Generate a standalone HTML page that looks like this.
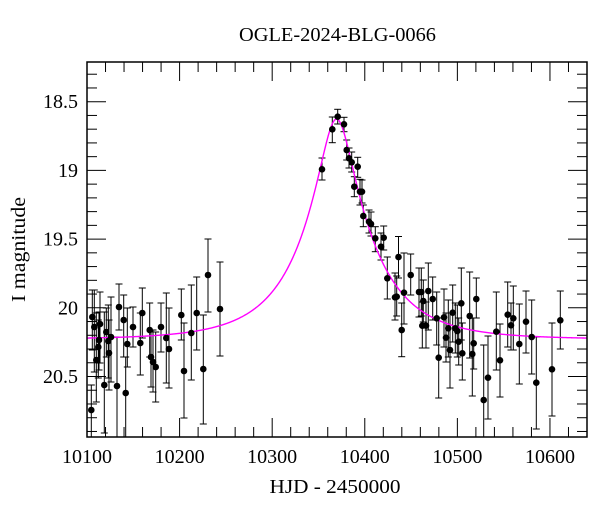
<!DOCTYPE html>
<html><head><meta charset="utf-8"><style>
html,body{margin:0;padding:0;background:#fff;}
svg{display:block;}
text{font-family:"Liberation Serif",serif;fill:#000;}
</style></head><body>
<svg id="s" width="600" height="512" viewBox="0 0 600 512" xmlns="http://www.w3.org/2000/svg">
<defs><clipPath id="c"><rect x="87" y="62" width="500" height="375"/></clipPath></defs>
<text x="337.5" y="41" font-size="20" text-anchor="middle" textLength="197" lengthAdjust="spacingAndGlyphs">OGLE-2024-BLG-0066</text>
<text x="335" y="493" font-size="20" text-anchor="middle" textLength="131" lengthAdjust="spacingAndGlyphs">HJD - 2450000</text>
<text transform="translate(25,249.5) rotate(-90)" x="0" y="0" font-size="20" text-anchor="middle" textLength="105" lengthAdjust="spacingAndGlyphs">I magnitude</text>
<g id="ticks" stroke="#000" stroke-width="1"></g>
<g id="labels" font-size="20"></g>
<g id="bars" stroke="#000" stroke-width="1" clip-path="url(#c)"></g>
<path id="curve" fill="none" stroke="#ff00ff" stroke-width="1.4" clip-path="url(#c)"/>
<g id="dots" fill="#000" clip-path="url(#c)"></g>
<rect x="87" y="62" width="500" height="375" fill="none" stroke="#000" stroke-width="1.5"/>
</svg>
<script>
var NS="http://www.w3.org/2000/svg";
function el(n,a,p,txt){var e=document.createElementNS(NS,n);for(var k in a)e.setAttribute(k,a[k]);if(txt!==undefined)e.textContent=txt;document.getElementById(p).appendChild(e);return e;}
function X(t){return 87+(t-10100)*500/540;}
function Y(m){return 101.7+(m-18.5)*137.4;}
// x ticks
for(var t=10100;t<=10640;t+=20){var x=X(t);var maj=(t%100===0);var L=maj?19:10;
 if(x>87.5&&x<586.5){el('line',{x1:x,y1:437,x2:x,y2:437-L},'ticks');el('line',{x1:x,y1:62,x2:x,y2:62+L},'ticks');}
 if(maj&&t<=10600)el('text',{x:x,y:463,'text-anchor':'middle'},'labels',String(t));}
// y ticks
for(var i=3;i<=29;i++){var m=18+i/10;var y=Y(m);var maj=(i%5===0);var L=maj?19:10;
 el('line',{x1:87,y1:y,x2:87+L,y2:y},'ticks');el('line',{x1:587,y1:y,x2:587-L,y2:y},'ticks');
 if(maj)el('text',{x:78,y:y+6.5,'text-anchor':'end'},'labels',String(Math.round(m*10)/10));}
// data: x, y, top, bottom
var D=[
[91.3,410,385,437],[92.3,317,290,350],[94.3,327,290,372],[96.3,360,313,402],[98.3,347,320,378],[99,340,312,370],[100,324,292,363],
[104.3,385,312,433],[106.3,332,308,357],[108.3,341,305,378],[109,353,320,390],[111,337,297,382],[117,386,337,437],[119,307,284,330],
[123.7,320,295,357],[125.7,393,357,437],[127.3,344,308,367],[133,327,307,347],[140.3,343,313,375],[142.3,313,288,338],[149.7,330,303,357],
[151,357,332,387],[153,362,330,392],[155.7,367,332,402],[161,327,303,352],[166.3,338,293,383],[169,349,308,388],[181.3,315,289,340],
[184,371,323,418],[191.3,333,285,380],[196.7,313,277,350],[203.3,369,315,424],[208,275,239,312],[220,309,262,356],
[322,169.3,158,180],[332.3,129.3,117,142.7],[337.7,116.7,109.3,124],[344,124.3,117.3,131.7],[346.7,150,140,160],[349,158.3,148,168],
[351.7,162.3,152,172],[357.7,166.7,157.3,177.3],[354.3,186.7,176.7,196.7],[360,191.7,179.3,205],[362,191.7,180,203],[363.3,216,205,226.7],
[369,221.7,210,233],[371,224,212,236],[375.3,238.3,226.7,251.7],[381,246.7,233,260],[383.7,237.7,226,250],[387.3,278.3,257,299],
[398.5,257,236.5,278],[395,297.3,273,320],[396.7,296.7,276,316],[401.7,330,303,356.7],[404,292.7,253,324],[410.7,275,254,295],
[419,292,268,317],[421.3,292,268,316],[423.3,301,280,322],[422.3,325.7,302,348],[426,325.7,302,348],[428.3,291,263,330],[432.7,299,277,320],
[436.7,318.3,292,345],[438.7,357.7,318,398],[444,317.3,289,347],[446,337.7,313,362],[448.3,328.3,300,357],[450,350,313,388],[452.7,312.7,285,342],
[455.3,328.3,303,353],[457.3,331,305,357],[458.7,341.7,318,365],[461.3,303.3,268,340],[462.3,353.3,323,380],[469.7,316,272,358],[472.3,354,318,396],
[473.7,343.3,318,369],[476.3,299,278,318],[483.7,400,345,437],[488,377.7,336,419],[496.3,331.7,292,370],[500,360.3,324,397],[507.7,314.7,282,347],
[511,325.3,303,350],[513.3,318.3,286,350],[519.3,344,304,384],[526,321.7,291,353],[531.7,337,300,374],[536.3,382.7,337,429],[552,369.3,323,416],[560.3,320.3,291,349]
];
D.forEach(function(d){var x=d[0];
 el('line',{x1:x,y1:d[2],x2:x,y2:d[3]},'bars');
 el('line',{x1:x-3.5,y1:d[2],x2:x+3.5,y2:d[2]},'bars');
 el('line',{x1:x-3.5,y1:d[3],x2:x+3.5,y2:d[3]},'bars');
 el('circle',{cx:x,cy:d[1],r:3.3},'dots');});
// model
var t0=10369.5,tE=75,u0=0.233,base=20.23;
function mag(t){var tau=(t-t0)/tE;var u=Math.sqrt(u0*u0+tau*tau);var A=(u*u+2)/(u*Math.sqrt(u*u+4));return base-2.5*Math.log10(A);}
var p='';for(var t=10098;t<=10642;t+=0.5){p+=(p?'L':'M')+X(t).toFixed(2)+','+Y(mag(t)).toFixed(2);}
document.getElementById('curve').setAttribute('d',p);
</script>
</body></html>
